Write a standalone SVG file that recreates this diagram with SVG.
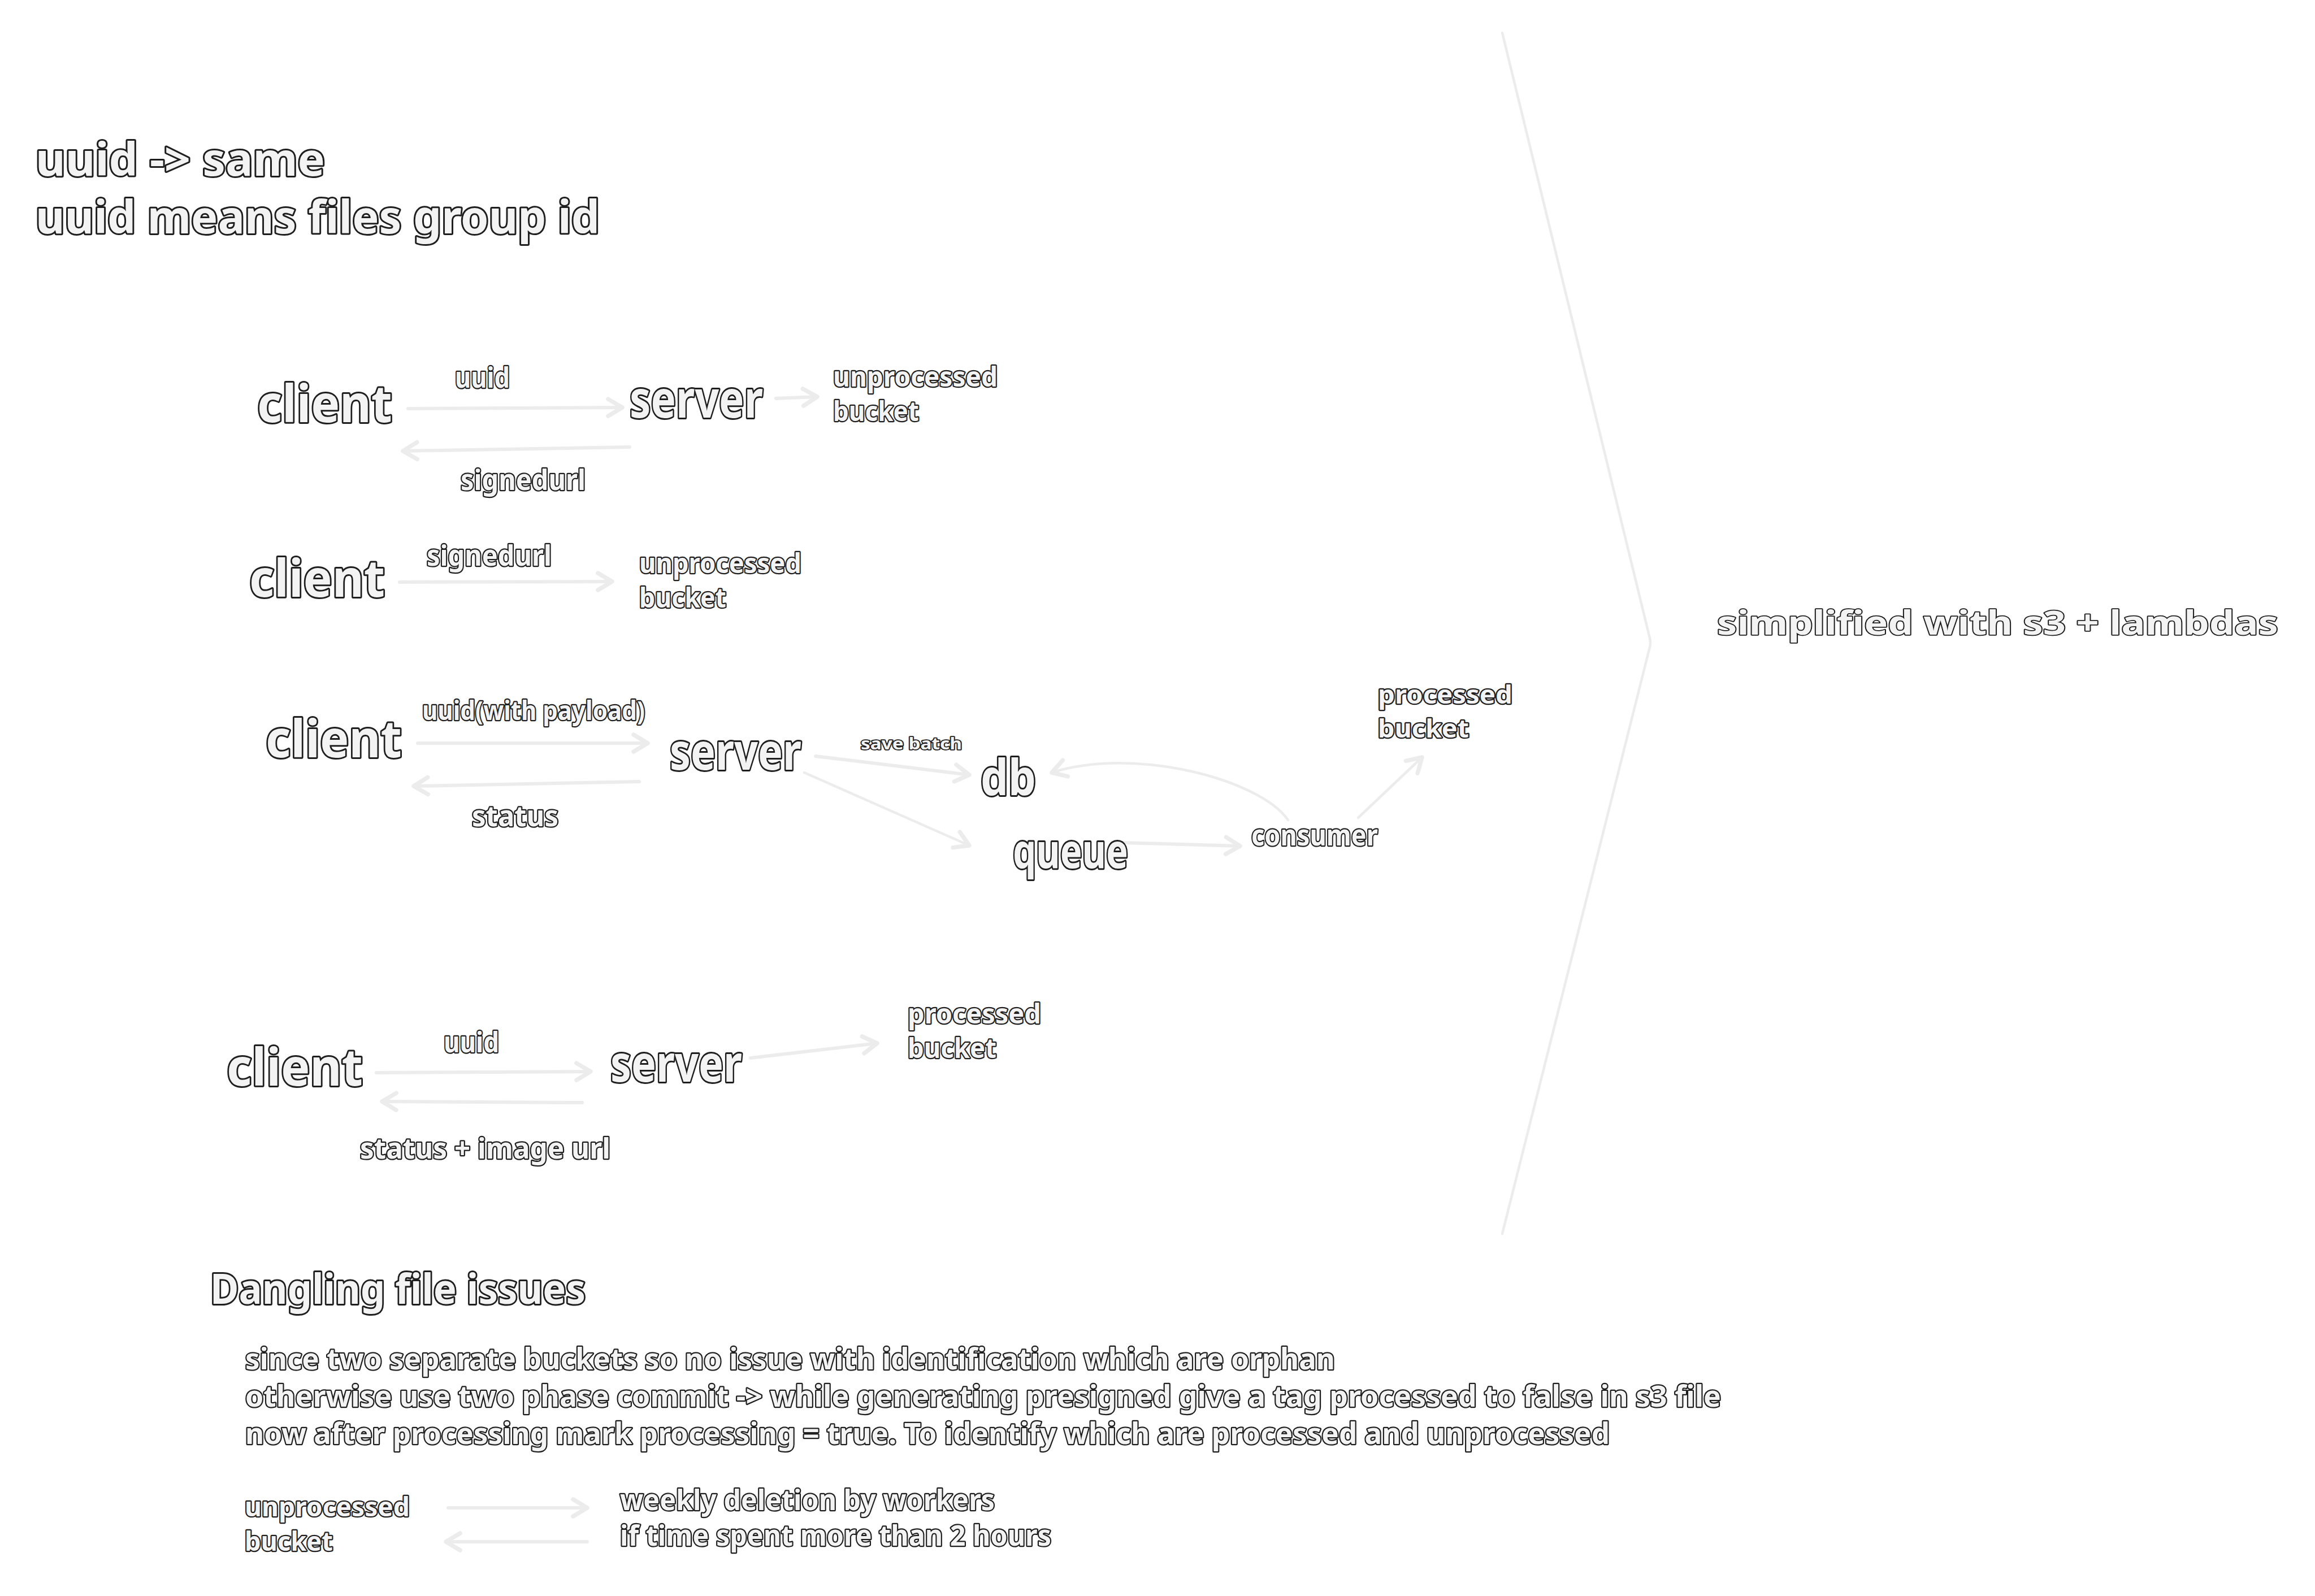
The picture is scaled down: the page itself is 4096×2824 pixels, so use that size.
<svg xmlns="http://www.w3.org/2000/svg" width="4096" height="2824" viewBox="0 0 4096 2824">
<defs>
<style>
.t{font-family:"Noto Sans","Open Sans",sans-serif;font-weight:700;fill:#f3f3f3;stroke:#1e1e1e;paint-order:stroke;stroke-linejoin:round}
.b{stroke-width:6}
.m{stroke-width:4.5}
.s{stroke-width:3.5}
.c{fill:none;stroke:#ececec;stroke-width:6;stroke-linecap:round;stroke-linejoin:round}
.thin{stroke-width:4.5}
</style>
<marker id="ah" markerUnits="userSpaceOnUse" markerWidth="40" markerHeight="40" viewBox="-24 -16 28 32" refX="0" refY="0" orient="auto">
<path d="M-20,-12 L0,0 L-20,12" fill="none" stroke="#ececec" stroke-width="6" stroke-linecap="round" stroke-linejoin="round"/>
</marker>
</defs>
<rect width="4096" height="2824" fill="#ffffff"/>

<g id="connectors">
<path class="c" d="M722,723 L1101,721" marker-end="url(#ah)"/>
<path class="c" d="M1373,705 L1446,702" marker-end="url(#ah)"/>
<path class="c" d="M1114,791 L713,798" marker-end="url(#ah)"/>
<path class="c" d="M707,1030 L1083,1029" marker-end="url(#ah)"/>
<path class="c" d="M739,1315 L1146,1315" marker-end="url(#ah)"/>
<path class="c" d="M1131,1383 L732,1391" marker-end="url(#ah)"/>
<path class="c" d="M1443,1338 L1715,1371" marker-end="url(#ah)"/>
<path class="c thin" d="M1423,1367 L1715,1496" marker-end="url(#ah)"/>
<path class="c" d="M1985,1491 L2194,1497" marker-end="url(#ah)"/>
<path class="c thin" d="M2279,1451 C2230,1380 2010,1320 1861,1367" marker-end="url(#ah)"/>
<path class="c thin" d="M2403,1447 L2516,1340" marker-end="url(#ah)"/>
<path class="c" d="M666,1898 L1045,1896" marker-end="url(#ah)"/>
<path class="c" d="M1328,1872 L1552,1846" marker-end="url(#ah)"/>
<path class="c" d="M1030,1951 L676,1949" marker-end="url(#ah)"/>
<path class="c" d="M793,2668 L1039,2668" marker-end="url(#ah)"/>
<path class="c" d="M1039,2728 L789,2728" marker-end="url(#ah)"/>
<path class="c thin" d="M2658,58 L2918,1125 Q2922,1137 2918,1149 L2658,2183"/>
<text class="t m" x="805" y="686" font-size="50" textLength="97" lengthAdjust="spacingAndGlyphs">uuid</text>
<text class="t m" x="815" y="867" font-size="50" textLength="221" lengthAdjust="spacingAndGlyphs">signedurl</text>
<text class="t m" x="755" y="1001" font-size="50" textLength="221" lengthAdjust="spacingAndGlyphs">signedurl</text>
<text class="t m" x="747" y="1274" font-size="46" textLength="394" lengthAdjust="spacingAndGlyphs">uuid(with payload)</text>
<text class="t m" x="835" y="1462" font-size="50" textLength="153" lengthAdjust="spacingAndGlyphs">status</text>
<text class="t s" x="1523" y="1326" font-size="28" textLength="179" lengthAdjust="spacingAndGlyphs">save batch</text>
<text class="t m" x="785" y="1862" font-size="50" textLength="98" lengthAdjust="spacingAndGlyphs">uuid</text>
<text class="t m" x="637" y="2050" font-size="50" textLength="443" lengthAdjust="spacingAndGlyphs">status + image url</text>
</g>

<g id="title">
<text class="t b" x="63" y="311" font-size="80" textLength="512" lengthAdjust="spacingAndGlyphs">uuid -&gt; same</text>
<text class="t b" x="63" y="413" font-size="80" textLength="998" lengthAdjust="spacingAndGlyphs">uuid means files group id</text>
</g>

<g id="client1"><text class="t b" x="455" y="747" font-size="92" textLength="239" lengthAdjust="spacingAndGlyphs">client</text></g>
<g id="server1"><text class="t b" x="1114" y="739" font-size="92" textLength="236" lengthAdjust="spacingAndGlyphs">server</text></g>
<g id="unprocessed1">
<text class="t m" x="1474" y="684" font-size="48" textLength="291" lengthAdjust="spacingAndGlyphs">unprocessed</text>
<text class="t m" x="1474" y="745" font-size="48" textLength="152" lengthAdjust="spacingAndGlyphs">bucket</text>
</g>

<g id="client2"><text class="t b" x="441" y="1056" font-size="92" textLength="240" lengthAdjust="spacingAndGlyphs">client</text></g>
<g id="unprocessed2">
<text class="t m" x="1131" y="1014" font-size="48" textLength="287" lengthAdjust="spacingAndGlyphs">unprocessed</text>
<text class="t m" x="1131" y="1075" font-size="48" textLength="154" lengthAdjust="spacingAndGlyphs">bucket</text>
</g>

<g id="client3"><text class="t b" x="470" y="1340" font-size="92" textLength="241" lengthAdjust="spacingAndGlyphs">client</text></g>
<g id="server3"><text class="t b" x="1185" y="1362" font-size="90" textLength="233" lengthAdjust="spacingAndGlyphs">server</text></g>
<g id="db"><text class="t b" x="1735" y="1407" font-size="88" textLength="98" lengthAdjust="spacingAndGlyphs">db</text></g>
<g id="queue"><text class="t b" x="1792" y="1536" font-size="84" textLength="204" lengthAdjust="spacingAndGlyphs">queue</text></g>
<g id="consumer"><text class="t m" x="2214" y="1496" font-size="52" textLength="224" lengthAdjust="spacingAndGlyphs">consumer</text></g>
<g id="processed3">
<text class="t m" x="2438" y="1245" font-size="44" textLength="238" lengthAdjust="spacingAndGlyphs">processed</text>
<text class="t m" x="2438" y="1305" font-size="44" textLength="161" lengthAdjust="spacingAndGlyphs">bucket</text>
</g>

<g id="client4"><text class="t b" x="401" y="1921" font-size="92" textLength="241" lengthAdjust="spacingAndGlyphs">client</text></g>
<g id="server4"><text class="t b" x="1080" y="1914" font-size="90" textLength="233" lengthAdjust="spacingAndGlyphs">server</text></g>
<g id="processed4">
<text class="t m" x="1606" y="1811" font-size="48" textLength="236" lengthAdjust="spacingAndGlyphs">processed</text>
<text class="t m" x="1606" y="1872" font-size="48" textLength="157" lengthAdjust="spacingAndGlyphs">bucket</text>
</g>

<g id="simplified"><text class="t s" x="3038" y="1123" font-size="60" textLength="993" lengthAdjust="spacingAndGlyphs">simplified with s3 + lambdas</text></g>

<g id="dangling-heading"><text class="t b" x="372" y="2307" font-size="74" textLength="664" lengthAdjust="spacingAndGlyphs">Dangling file issues</text></g>
<g id="dangling-notes">
<text class="t m" x="434" y="2423" font-size="52" textLength="1928" lengthAdjust="spacingAndGlyphs">since two separate buckets so no issue with identification which are orphan</text>
<text class="t m" x="434" y="2489" font-size="52" textLength="2611" lengthAdjust="spacingAndGlyphs">otherwise use two phase commit -&gt; while generating presigned give a tag processed to false in s3 file</text>
<text class="t m" x="434" y="2555" font-size="52" textLength="2414" lengthAdjust="spacingAndGlyphs">now after processing mark processing = true. To identify which are processed and unprocessed</text>
</g>
<g id="unprocessed5">
<text class="t m" x="433" y="2683" font-size="46" textLength="292" lengthAdjust="spacingAndGlyphs">unprocessed</text>
<text class="t m" x="433" y="2744" font-size="46" textLength="156" lengthAdjust="spacingAndGlyphs">bucket</text>
</g>
<g id="deletion">
<text class="t m" x="1097" y="2672" font-size="50" textLength="663" lengthAdjust="spacingAndGlyphs">weekly deletion by workers</text>
<text class="t m" x="1097" y="2735" font-size="50" textLength="763" lengthAdjust="spacingAndGlyphs">if time spent more than 2 hours</text>
</g>
</svg>
